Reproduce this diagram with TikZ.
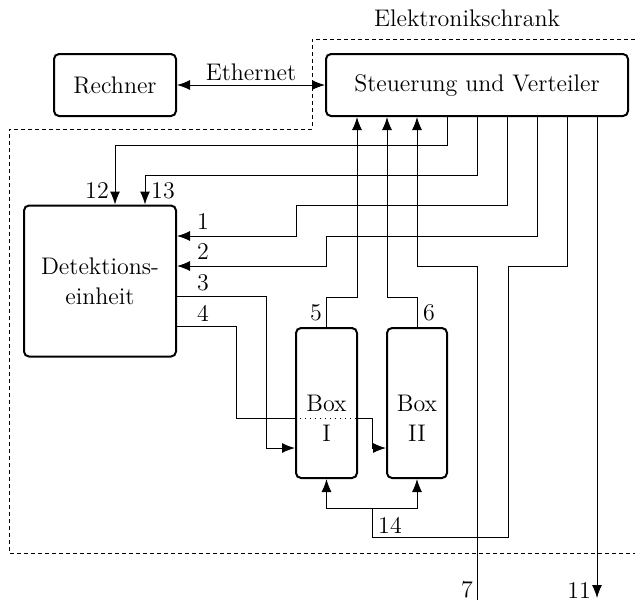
\documentclass[tikz,border=0pt]{standalone}
\usetikzlibrary{arrows.meta,calc}
\begin{document}
\begin{tikzpicture}[x=0.5pt,y=-0.5pt,
  font=\fontsize{12}{15}\selectfont,
  box/.style={draw, line width=1pt, rounded corners=2.5pt, inner sep=0pt, fill=white},
  conn/.style={line width=0.5pt},
  arr/.style={conn,-{Latex[length=6.5pt,width=5pt]}},
  twoway/.style={conn,{Latex[length=6.5pt,width=5pt]}-{Latex[length=6.5pt,width=5pt]}},
  boundary/.style={line width=0.5pt, dash pattern=on 2pt off 1.5pt},
  lbl/.style={inner sep=0pt}]
\useasboundingbox (0,0) rectangle (635,602);

% boundary of the cabinet
\draw[boundary] (635,39) -- (312,39) -- (312,129) -- (9,129) -- (9,553) -- (635,553);
\node[lbl] (cab) at (467,18) {Elektronikschrank};

% main blocks
\node[box, minimum width=61pt, minimum height=31pt] (R) at (115,85) {Rechner};
\node[box, minimum width=151pt, minimum height=31pt] (S) at (477,85) {Steuerung und Verteiler};
\node[box, minimum width=76pt, minimum height=75.5pt, align=center] (D) at (100,281) {Detektions-\\einheit};
\node[box, minimum width=30.5pt, minimum height=75pt] (B1) at (326.5,403) {};
\node[box, minimum width=30pt, minimum height=75pt] (B2) at (417,403) {};
\node[lbl, align=center] (B1t) at ($(B1.center)+(0,15)$) {Box\\I};
\node[lbl, align=center] (B2t) at ($(B2.center)+(0,15)$) {Box\\II};

% Ethernet
\draw[twoway] (R.east) -- (S.west) node[midway, above=0pt, lbl, yshift=2pt] (eth) {Ethernet};

% connection points on the distributor
\foreach \i/\dx in {1/-120,2/-90,3/-60,4/-30,5/0,6/30,7/60,8/90,9/120}
  \coordinate (s\i) at ($(S.south)+(\dx,0)$);
% points on the detection unit
\coordinate (d12) at ($(D.north)+(15,0)$);
\coordinate (d13) at ($(D.north)+(45,0)$);
\coordinate (d1) at ($(D.east)+(0,-45)$);
\coordinate (d2) at ($(D.east)+(0,-15)$);
\coordinate (d3) at ($(D.east)+(0,15)$);
\coordinate (d4) at ($(D.east)+(0,45)$);
% points on the boxes
\coordinate (b1in) at ($(B1.west)+(0,45)$);
\coordinate (b2in) at ($(B2.west)+(0,45)$);
\coordinate (b1l) at ($(B1.west)+(0,15)$);
\coordinate (b1r) at ($(B1.east)+(0,15)$);
% free ends
\coordinate (p7) at (477,600);
\coordinate (p11) at (597,598);
\coordinate (j14) at (372,508);

% 12, 13
\draw[arr] (s4) |- (115,145) -- (d12);
\draw[arr] (s5) |- (145,175) -- (d13);
% 1, 2
\draw[arr] (s6) |- (296,205) |- (d1);
\draw[arr] (s7) |- (326,236) |- (d2);
% 3, 4
\draw[arr] (d3) -| (266,448) -- (b1in);
\draw[conn] (d4) -| (236,418) -- (b1l);
\draw[line width=0.5pt, dotted] (b1l) -- (b1r);
\draw[arr] (b1r) -| (372,448) -- (b2in);
% 5, 6
\draw[arr] (B1.north) |- (357,297) -- (s1);
\draw[arr] (B2.north) |- (387,297) -- (s2);
% 7
\draw[arr] (p7) |- (417,266) -- (s3);
% 14
\draw[conn] (s8) |- (508,266) |- (372,537) -- (j14);
\draw[arr] (j14) -| (B1.south);
\draw[arr] (j14) -| (B2.south);
% 11
\draw[arr] (s9) -- (p11);

% labels
\node[lbl] (l12) at (97,191) {12};
\node[lbl] (l13) at (163,191) {13};
\node[lbl] (l1) at (203,222) {1};
\node[lbl] (l2) at (203,252) {2};
\node[lbl] (l3) at (203,283) {3};
\node[lbl] (l4) at (203,313) {4};
\node[lbl] (l5) at (316,313) {5};
\node[lbl] (l6) at (429,313) {6};
\node[lbl] (l14) at (390,525) {14};
\node[lbl] (l7) at (467,590) {7};
\node[lbl] (l11) at (579,590) {11};
\end{tikzpicture}
\end{document}
